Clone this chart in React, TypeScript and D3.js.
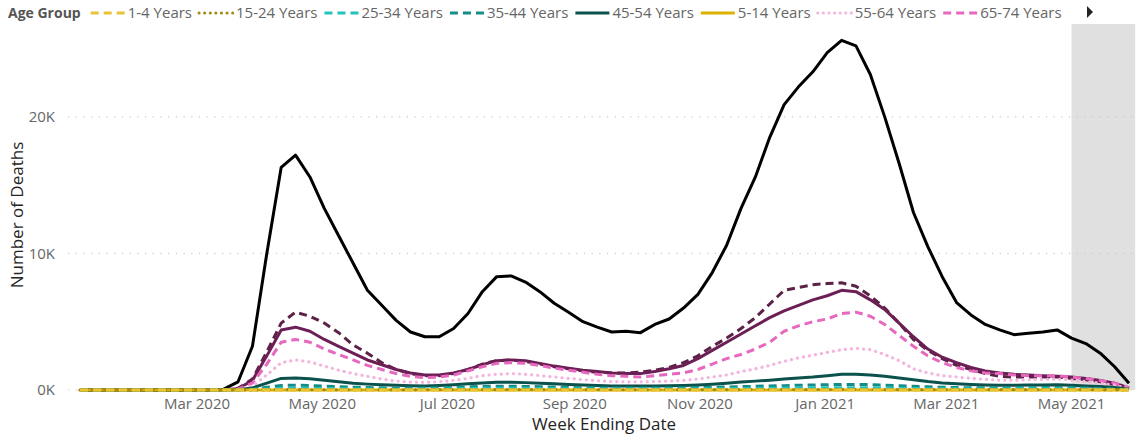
import React, { useEffect, useRef } from "react";
import * as d3 from "d3";

const W = 1147;
const H = 436;

const firstWeekEnding = "2020-01-04";
const weekCount = 74;
const xTickDates = ["2020-03-01", "2020-05-01", "2020-07-01", "2020-09-01", "2020-11-01", "2021-01-01", "2021-03-01", "2021-05-01"];
const yTicks = [0, 10000, 20000];
const yMax = 26800;
const highlightRange = ["2021-05-01", "2021-06-01"];

const allAges = [0,0,0,0,0,0,0,0,0,0,
 60,600,3200,10000,16300,17200,15600,13300,11300,9300,
 7300,6200,5100,4250,3900,3900,4500,5600,7200,8300,
 8350,7900,7200,6350,5700,5000,4600,4250,4300,4200,
 4800,5200,6000,7000,8600,10600,13300,15600,18500,20900,
 22200,23300,24700,25600,25200,23100,20000,16600,13000,10500,
 8300,6400,5500,4800,4400,4050,4150,4250,4400,3800,
 3400,2700,1700,500];

const age85plus = [0,0,0,0,0,0,0,0,0,0,
 10,120,800,2800,4900,5700,5400,4900,4200,3300,
 2700,2000,1500,1200,1050,1050,1200,1500,1900,2150,
 2200,2100,1900,1700,1550,1400,1300,1250,1250,1300,
 1450,1650,2000,2500,3200,3800,4500,5300,6300,7300,
 7500,7700,7800,7850,7600,6900,6000,4900,3700,2900,
 2300,1800,1500,1200,1000,950,950,950,950,850,
 750,600,400,120];

const age75to84 = [0,0,0,0,0,0,0,0,0,0,
 10,100,700,2500,4400,4600,4300,3700,3200,2700,
 2200,1850,1500,1250,1100,1100,1250,1500,1850,2150,
 2200,2150,1950,1750,1600,1450,1350,1250,1200,1200,
 1350,1550,1800,2300,2900,3500,4100,4700,5300,5800,
 6200,6600,6900,7300,7200,6600,5900,4900,3900,3000,
 2400,2000,1650,1400,1250,1150,1100,1050,1000,950,
 850,700,500,150];

const age65to74 = [0,0,0,0,0,0,0,0,0,0,
 5,60,500,1900,3500,3700,3500,3000,2600,2200,
 1800,1500,1200,1000,900,950,1100,1400,1700,1950,
 2000,1950,1800,1600,1450,1300,1150,1050,1000,950,
 1050,1150,1250,1500,1900,2300,2600,3000,3500,4300,
 4700,5000,5200,5600,5700,5400,4800,4000,3200,2500,
 2000,1650,1400,1250,1200,1100,1050,1050,1050,950,
 850,700,500,150];

const age55to64 = [0,0,0,0,0,0,0,0,0,0,
 3,30,300,1100,2000,2200,2050,1750,1450,1200,
 1000,800,650,580,560,600,700,850,1050,1150,
 1200,1150,1050,950,850,750,680,620,600,600,
 620,650,700,800,950,1100,1350,1550,1800,2100,
 2350,2550,2750,2950,3050,2950,2600,2150,1550,1250,
 1050,950,850,780,720,720,750,780,800,720,
 620,500,350,100];

const age45to54 = [0,0,0,0,0,0,0,0,0,0,
 2,20,150,500,850,880,820,720,600,500,
 430,380,340,310,300,330,380,450,520,560,
 560,540,500,450,400,360,330,300,290,290,
 300,310,330,370,430,500,580,650,720,800,
 880,950,1050,1150,1150,1100,1000,880,750,620,
 520,450,400,370,350,350,360,370,380,350,
 300,250,180,50];

const age35to44 = [0,0,0,0,0,0,0,0,0,0,
 1,8,60,200,330,350,330,290,250,210,
 180,160,145,140,145,165,190,230,260,270,
 270,260,240,215,190,170,155,145,140,140,
 145,150,160,175,200,220,250,270,300,320,
 350,370,390,410,410,390,350,310,270,230,
 200,180,165,160,160,165,170,175,180,160,
 140,110,80,20];

const age25to34 = [0,0,0,0,0,0,0,0,0,0,
 0,3,20,70,120,130,120,105,90,80,
 70,65,60,60,65,75,90,105,120,125,
 125,120,110,100,90,80,75,70,65,65,
 68,70,75,80,90,100,110,120,130,140,
 150,160,165,170,170,160,145,130,115,100,
 90,85,80,80,80,82,85,88,90,80,
 70,55,40,10];

const age15to24 = [0,0,0,0,0,0,0,0,0,0,
 0,0,3,12,20,22,20,18,16,15,
 14,14,14,15,17,20,24,28,32,33,
 32,30,28,25,23,21,20,19,18,18,
 19,20,21,22,24,26,28,30,32,34,
 36,37,38,40,39,37,34,30,27,24,
 22,21,21,22,23,24,25,26,26,24,
 21,17,12,4];

const age5to14 = [0,0,0,0,0,0,0,0,0,0,
 0,0,0,1,2,2,2,2,1,1,
 1,1,1,1,1,2,2,2,3,3,
 3,3,3,2,2,2,2,2,2,2,
 2,2,2,2,2,3,3,3,3,3,
 3,3,3,4,4,4,3,3,3,2,
 2,2,2,2,2,2,2,2,2,2,
 2,2,1,0];

const age1to4 = [0,0,0,0,0,0,0,0,0,0,
 0,0,0,0,1,1,1,1,0,0,
 0,0,0,0,1,1,1,1,1,1,
 1,1,1,1,1,1,1,0,0,0,
 0,0,1,1,1,1,1,1,1,1,
 1,1,1,1,1,1,1,1,1,1,
 1,1,0,0,0,1,1,1,1,1,
 1,1,0,0];

type Style = "solid" | "dashed" | "dotted";
interface Series { name: string; values: number[]; color: string; style: Style; }

// legend order (alphabetical as in the source)
const legendSeries: Series[] = [
  { name: "1-4 Years", values: age1to4, color: "#EAC435", style: "dashed" },
  { name: "15-24 Years", values: age15to24, color: "#A18B14", style: "dotted" },
  { name: "25-34 Years", values: age25to34, color: "#22C3BE", style: "dashed" },
  { name: "35-44 Years", values: age35to44, color: "#148C88", style: "dashed" },
  { name: "45-54 Years", values: age45to54, color: "#0B514C", style: "solid" },
  { name: "5-14 Years", values: age5to14, color: "#DDB100", style: "solid" },
  { name: "55-64 Years", values: age55to64, color: "#F4B4DD", style: "dotted" },
  { name: "65-74 Years", values: age65to74, color: "#E668BF", style: "dashed" },
  { name: "75-84 Years", values: age75to84, color: "#6C1F55", style: "solid" },
  { name: "85 Years and over", values: age85plus, color: "#5C2146", style: "dashed" },
  { name: "All Ages", values: allAges, color: "#000000", style: "solid" },
];

// draw order: bottom first
const drawOrder = ["All Ages", "85 Years and over", "75-84 Years", "65-74 Years", "55-64 Years", "45-54 Years", "35-44 Years", "25-34 Years", "5-14 Years", "15-24 Years", "1-4 Years"];

const FONT = "'Segoe UI', 'Open Sans', 'Noto Sans', sans-serif";

function dashFor(style: Style): string | null {
  if (style === "dashed") return "8,5";
  if (style === "dotted") return "0.1,6";
  return null;
}

export default function App() {
  const ref = useRef<SVGSVGElement | null>(null);

  useEffect(() => {
    const svg = d3.select(ref.current);
    svg.selectAll("*").remove();

    const parse = d3.timeParse("%Y-%m-%d");
    const start = parse(firstWeekEnding) as Date;
    const dates = d3.range(weekCount).map((i) => d3.timeDay.offset(start, i * 7));

    const x = d3.scaleTime().domain([dates[0], dates[dates.length - 1]]).range([80, 1129]);
    const y = d3.scaleLinear().domain([0, yMax]).range([390, 24]);

    const gridLeft = 68;
    const plotRight = x(parse(highlightRange[1]) as Date);

    // highlight band
    const h0 = x(parse(highlightRange[0]) as Date);
    svg.append("rect")
      .attr("x", h0).attr("y", y(yMax))
      .attr("width", plotRight - h0).attr("height", y(0) - y(yMax))
      .attr("fill", "#E0E0E0");

    // grid
    svg.append("g").selectAll("line").data(yTicks).join("line")
      .attr("x1", gridLeft).attr("x2", plotRight)
      .attr("y1", (d) => y(d)).attr("y2", (d) => y(d))
      .attr("stroke", "#C8C8C8").attr("stroke-width", 1.2)
      .attr("stroke-dasharray", "1.2,6.5");

    // y tick labels
    svg.append("g").selectAll("text").data(yTicks).join("text")
      .attr("x", 55).attr("y", (d) => y(d))
      .attr("dy", "0.35em").attr("text-anchor", "end")
      .attr("font-family", FONT).attr("font-size", 15).attr("fill", "#666666")
      .text((d) => `${d / 1000}K`);

    // x tick labels
    const fmt = d3.timeFormat("%b %Y");
    svg.append("g").selectAll("text").data(xTickDates.map((s) => parse(s) as Date)).join("text")
      .attr("x", (d) => x(d)).attr("y", 409)
      .attr("text-anchor", "middle")
      .attr("font-family", FONT).attr("font-size", 15).attr("fill", "#666666")
      .text((d) => fmt(d));

    // axis titles
    svg.append("text")
      .attr("x", 604).attr("y", 430).attr("text-anchor", "middle")
      .attr("font-family", FONT).attr("font-size", 17).attr("fill", "#252423")
      .text("Week Ending Date");
    svg.append("text")
      .attr("transform", "translate(23,215) rotate(-90)")
      .attr("text-anchor", "middle")
      .attr("font-family", FONT).attr("font-size", 17).attr("fill", "#252423")
      .text("Number of Deaths");

    // lines
    const line = d3.line<number>()
      .x((_, i) => x(dates[i]))
      .y((d) => y(d))
      .curve(d3.curveLinear);

    const byName = new Map(legendSeries.map((s) => [s.name, s]));
    const lg = svg.append("g");
    drawOrder.forEach((name) => {
      const s = byName.get(name)!;
      const p = lg.append("path")
        .attr("d", line(s.values))
        .attr("fill", "none")
        .attr("stroke", s.color)
        .attr("stroke-width", s.style === "dotted" ? 3.2 : 3)
        .attr("stroke-linejoin", "round")
        .attr("stroke-linecap", s.style === "dotted" ? "round" : "butt");
      const da = dashFor(s.style);
      if (da) p.attr("stroke-dasharray", da);
    });

    // legend
    const leg = svg.append("g");
    const title = leg.append("text")
      .attr("x", 8).attr("y", 18)
      .attr("font-family", FONT).attr("font-size", 14).attr("font-weight", 700).attr("fill", "#555555")
      .text("Age Group");
    let cx = 8 + (title.node() as SVGTextElement).getComputedTextLength() + 10;
    const legendLimit = 1080;
    for (const s of legendSeries) {
      const g = leg.append("g");
      const ml = g.append("line")
        .attr("x1", cx).attr("x2", cx + 34).attr("y1", 13).attr("y2", 13)
        .attr("stroke", s.color).attr("stroke-width", 3)
        .attr("stroke-linecap", s.style === "dotted" ? "round" : "butt");
      const da = s.style === "dashed" ? "8,5" : s.style === "dotted" ? "0.1,5.5" : null;
      if (da) ml.attr("stroke-dasharray", da);
      const t = g.append("text")
        .attr("x", cx + 37).attr("y", 18)
        .attr("font-family", FONT).attr("font-size", 15).attr("fill", "#666666")
        .text(s.name);
      const w = (t.node() as SVGTextElement).getComputedTextLength();
      if (cx + 37 + w > legendLimit) { g.remove(); break; }
      cx = cx + 37 + w + 7;
    }
    // scroll arrow
    leg.append("path")
      .attr("d", "M1087,6 L1093,12 L1087,18 Z")
      .attr("fill", "#252423");
  }, []);

  return (
    <div style={{ position: "absolute", left: 0, top: 0 }}>
      <svg ref={ref} width={W} height={H} style={{ display: "block", background: "#fff" }} />
    </div>
  );
}
